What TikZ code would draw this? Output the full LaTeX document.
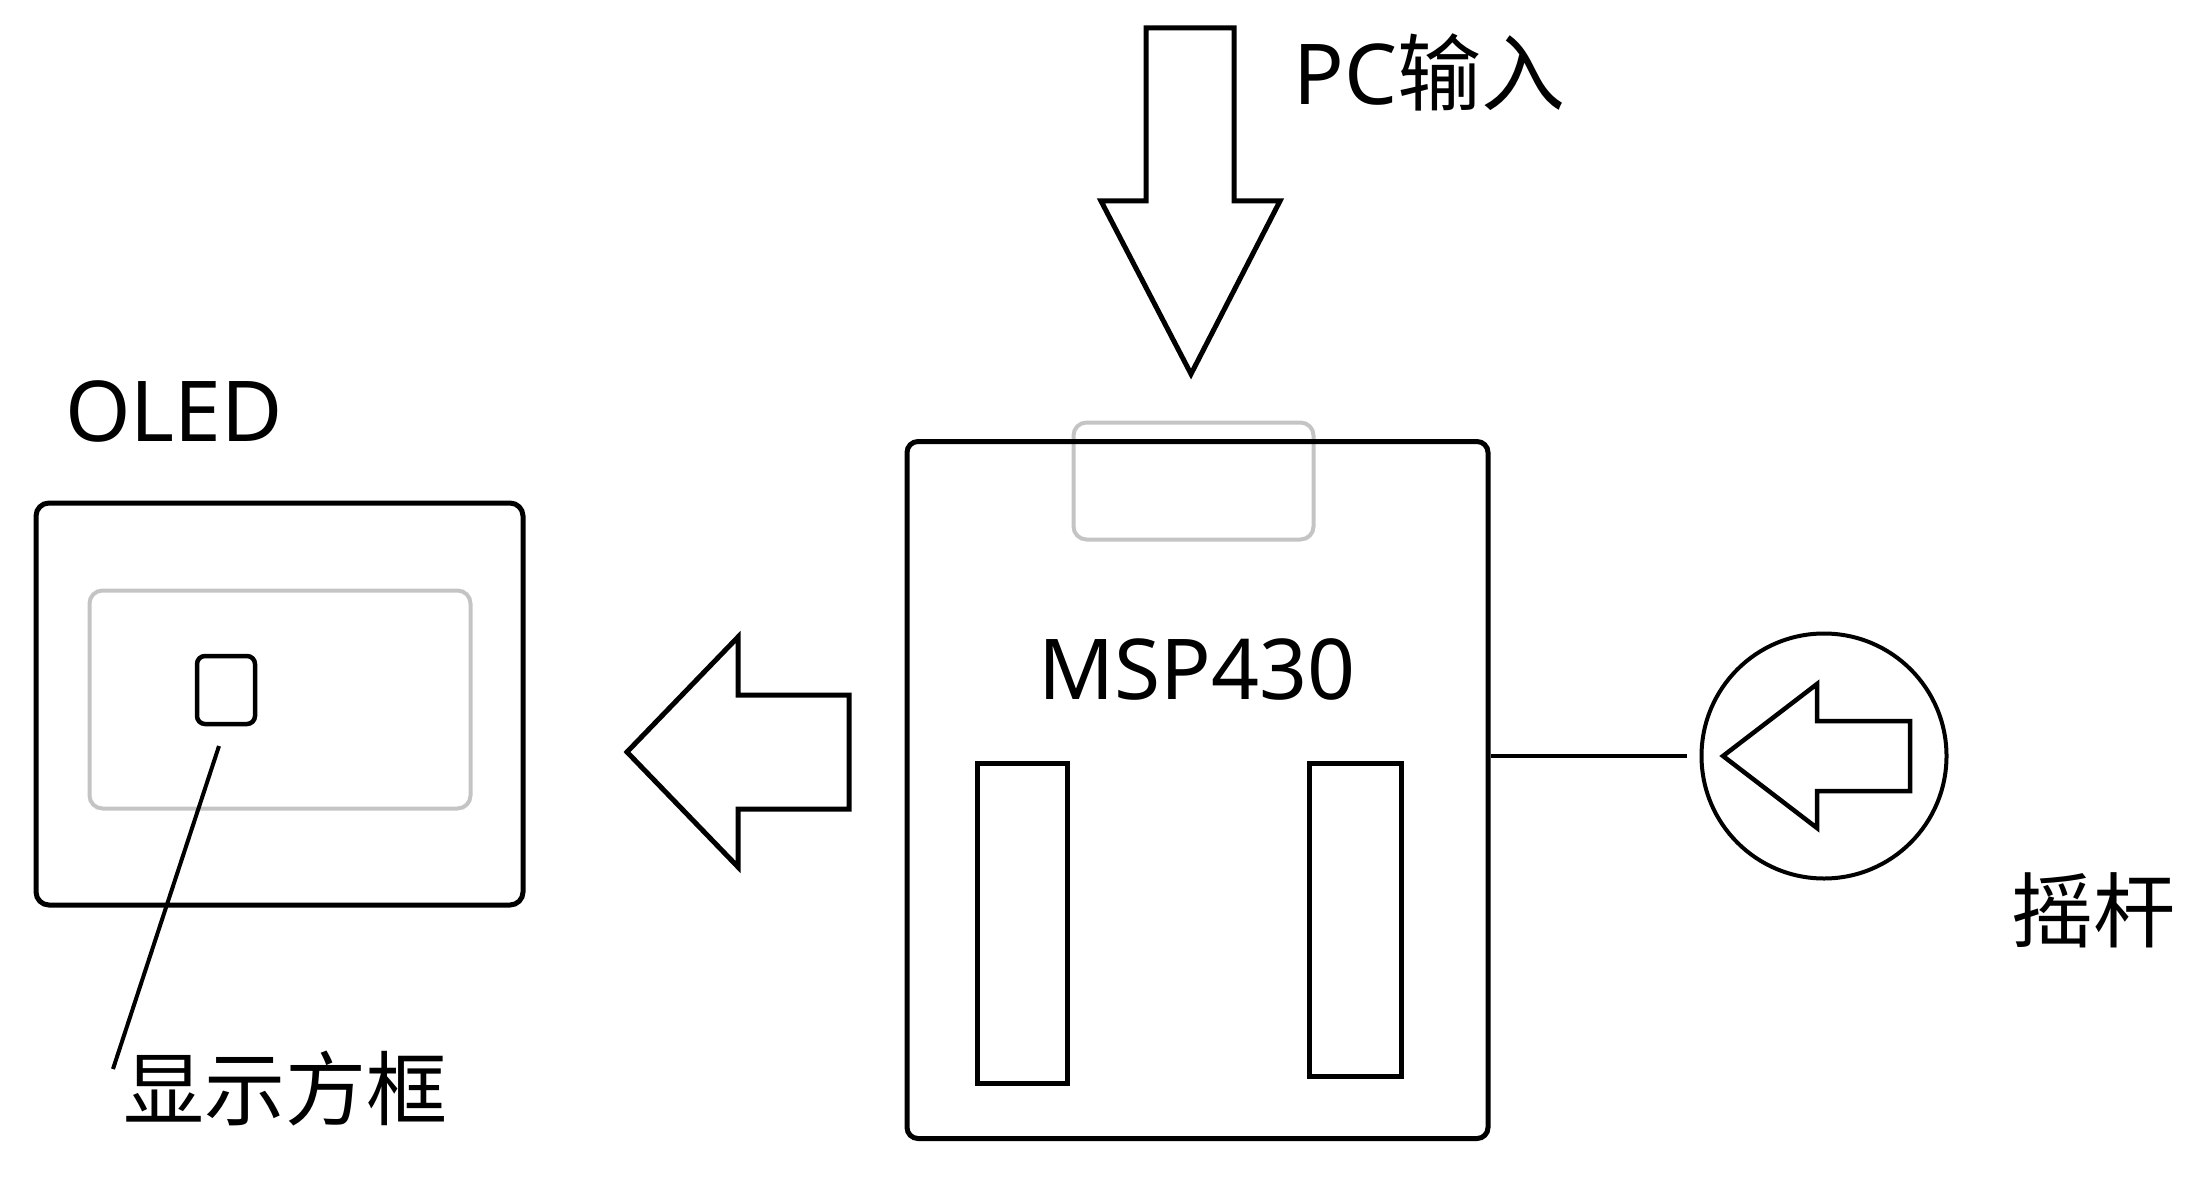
\documentclass[tikz,border=0pt]{standalone}
\usepackage{fontspec}
\setmainfont{Noto Sans}
\newfontfamily\cjk{Noto Sans CJK SC}
\definecolor{lightframe}{HTML}{C4C4C4}

\begin{document}
\begin{tikzpicture}[x=1pt,y=-1pt,
    board/.style={draw, line width=5pt, rounded corners=13pt, inner sep=0pt},
    window/.style={draw=lightframe, line width=4pt, rounded corners=13pt, inner sep=0pt},
    slot/.style={draw, line width=5pt, inner sep=0pt},
    fatarrow/.style={draw, line width=5pt, line join=miter},
    tag/.style={inner sep=0pt, font=\fontsize{84}{84}\selectfont}]
  \useasboundingbox (0,0) rectangle (2194,1193);

  % OLED module
  \node[board, minimum width=487pt, minimum height=402pt] (oled) at (279.5,704) {};
  \node[window, minimum width=381pt, minimum height=218pt] (screen) at (280,699.5) {};
  \node[board, rounded corners=8pt, line width=4.5pt, minimum width=58pt, minimum height=68pt] (cursor) at (226,690) {};
  \node[tag, anchor=base west] (oledlbl) at (65,441) {OLED};
  \node[tag, anchor=base west, font=\fontsize{81}{81}\selectfont] (cursorlbl) at (123,1119) {\cjk 显示方框};
  \coordinate (leadtop) at (219,746);
  \coordinate (leadend) at (113,1069);
  \draw[line width=4pt] (leadtop) -- (leadend);

  % MSP430 board
  \node[window, minimum width=240pt, minimum height=117pt] (port) at (1193.5,481) {};
  \node[board, rounded corners=11pt, minimum width=581pt, minimum height=697pt] (msp) at (1197.5,790) {};
  \node[slot, minimum width=90pt, minimum height=320pt] (slotl) at (1022,923) {};
  \node[slot, minimum width=92pt, minimum height=313pt] (slotr) at (1355,919.5) {};
  \node[tag, anchor=base] (msplbl) at (1197,699) {MSP430};

  % PC input
  \draw[fatarrow] (1146,28) -- (1234,28) -- (1234,201) -- (1280,201) -- (1191,374)
    -- (1101,201) -- (1146,201) -- cycle;
  \node[tag, anchor=base west] (pclbl) at (1293,105) {PC\cjk 输入};

  % to the OLED
  \draw[fatarrow] (849,695) -- (738,695) -- (738,637) -- (627,752) -- (738,867)
    -- (738,809) -- (849,809) -- cycle;

  % joystick
  \node[draw, circle, line width=4pt, minimum size=245pt, inner sep=0pt] (stick) at (1824,756) {};
  \draw[line width=4pt, shorten >=13pt] (stick.west -| msp.east) -- (stick.west);
  \draw[fatarrow, line width=4.5pt] (1910,721) -- (1817,721) -- (1817,684) -- (1723,756)
    -- (1817,828) -- (1817,791) -- (1910,791) -- cycle;
  \node[tag, anchor=base west, font=\fontsize{82}{82}\selectfont] (sticklbl) at (2011,941) {\cjk 摇杆};
\end{tikzpicture}
\end{document}
